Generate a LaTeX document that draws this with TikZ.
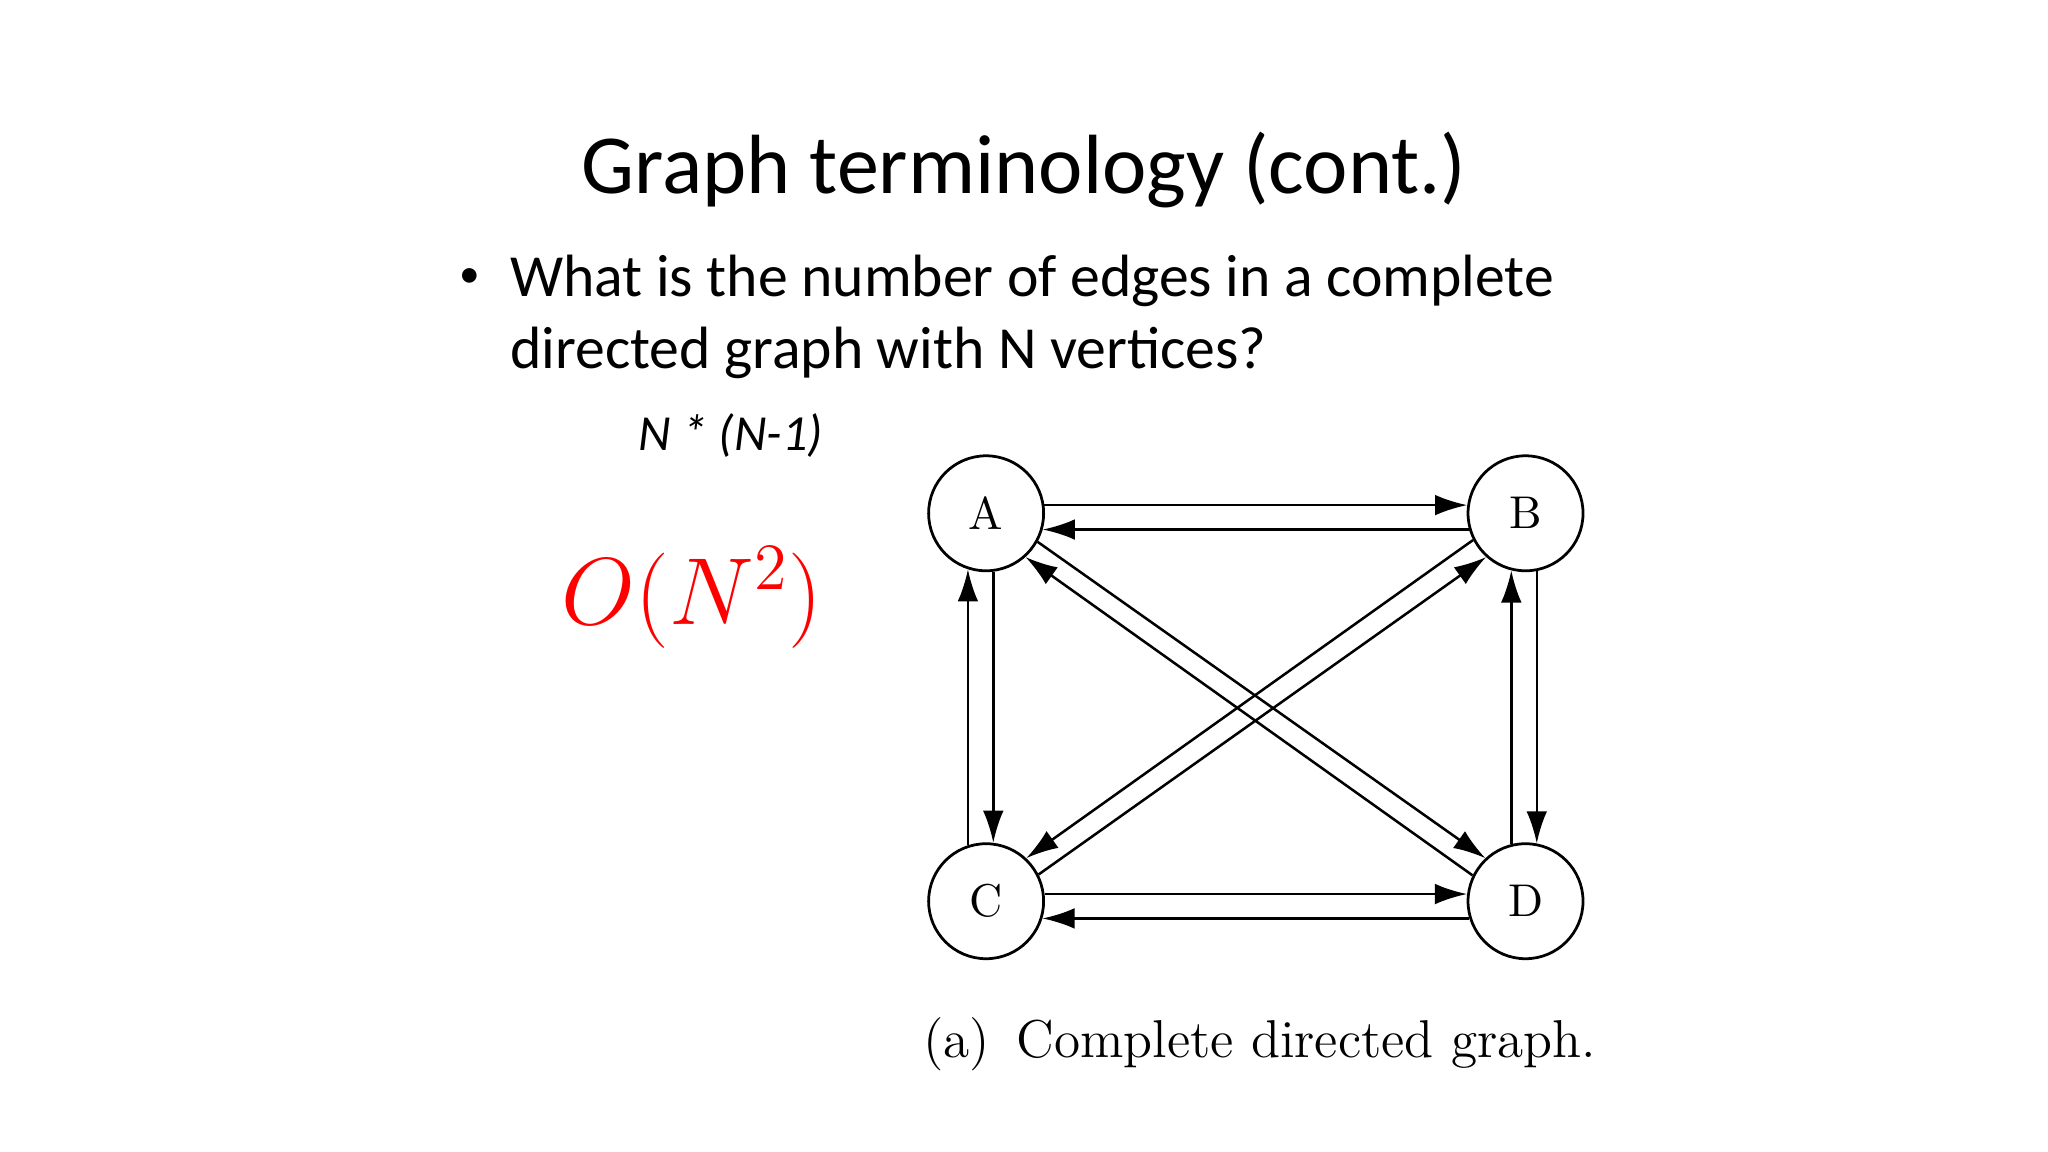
\documentclass[tikz,border=0pt]{standalone}
\usepackage{fontspec}
\setmainfont{Carlito}
\newfontfamily\lmr{Latin Modern Roman}
\usetikzlibrary{arrows.meta}
\begin{document}
\begin{tikzpicture}[x=0.01cm,y=-0.01cm,
  vert/.style={circle,draw,line width=0.6pt,minimum size=0.88cm,inner sep=0pt,font=\lmr\fontsize{10}{12}\selectfont},
  edge/.style={line width=0.55pt,-{Latex[length=7pt,width=4.5pt]}}]
\useasboundingbox (0,0) rectangle (1568,882);
\node[anchor=base] (title) at (784,148) {\fontsize{18.3}{21}\selectfont Graph terminology (cont.)};
\node[anchor=base west,inner sep=0pt] (b1) at (390,227) {\fontsize{13}{15}\selectfont What is the number of edges in a complete};
\node[anchor=base west,inner sep=0pt] (b2) at (390,282) {\fontsize{13}{15}\selectfont directed graph with N vertices?};
\node[anchor=base] (dot) at (360,220) {\fontsize{9}{13}\selectfont •};
\node[anchor=base west,inner sep=0pt] (f1) at (488,345) {\fontsize{11}{13}\selectfont\itshape N * (N-1)};
\node[anchor=base,text=red] (f2) at (530,478) {\fontsize{22}{26}\selectfont $O(N^2)$};
\node[vert] (A) at (755,393) {A};
\node[vert] (B) at (1168,393) {B};
\node[vert] (C) at (755,690) {C};
\node[vert] (D) at (1168,690) {D};
\draw[edge] (A.8) -- (B.172);
\draw[edge] (B.-164) -- (A.-16);
\draw[edge] (A.-83) -- (C.83);
\draw[edge] (C.108) -- (A.-108);
\draw[edge] (B.-79) -- (D.79);
\draw[edge] (D.104) -- (B.-104);
\draw[edge] (C.7) -- (D.173);
\draw[edge] (D.-163) -- (C.-17);
\draw[edge] (A.-29) -- (D.133);
\draw[edge] (D.154) -- (A.-48);
\draw[edge] (B.-153) -- (C.47);
\draw[edge] (C.27) -- (B.-132);
\node[anchor=base west,inner sep=0pt] (cap) at (706,810) {\lmr\fontsize{11.6}{14}\selectfont (a)\enspace Complete directed graph.};
\end{tikzpicture}
\end{document}
